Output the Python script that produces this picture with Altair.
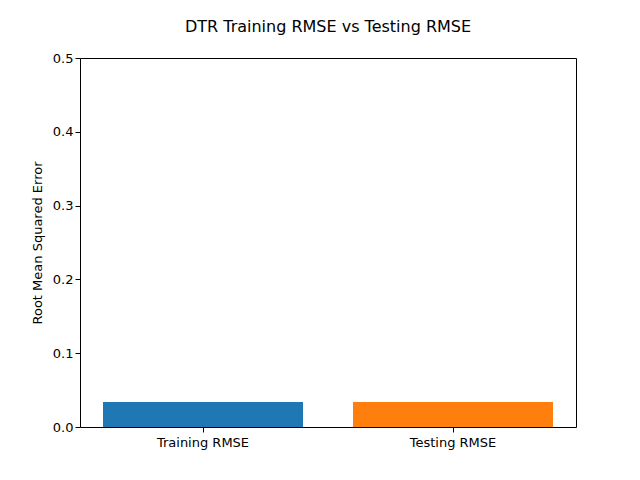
import pandas as pd
import altair as alt

labels = ["Training RMSE", "Testing RMSE"]
rmse = [0.0338, 0.0338]
colors = ["#1f77b4", "#ff7f0e"]

df = pd.DataFrame({"label": labels, "rmse": rmse})

chart = alt.Chart(df).mark_bar().encode(
    x=alt.X("label:N", sort=labels, title=None,
            scale=alt.Scale(paddingInner=0.2, paddingOuter=0.092),
            axis=alt.Axis(labelAngle=0, labelFontSize=13, tickSize=5, labelPadding=4,
                          domain=False, tickColor="black", labelColor="black")),
    y=alt.Y("rmse:Q", title="Root Mean Squared Error",
            scale=alt.Scale(domain=[0, 0.5], nice=False),
            axis=alt.Axis(values=[0, 0.1, 0.2, 0.3, 0.4, 0.5], format=".1f", grid=False,
                          labelFontSize=13, titleFontSize=13, titleFontWeight="normal",
                          tickSize=5, domain=False, tickColor="black", labelColor="black",
                          titleColor="black", titlePadding=8)),
    color=alt.Color("label:N", scale=alt.Scale(domain=labels, range=colors), legend=None),
).properties(
    width=496, height=369,
    title=alt.TitleParams("DTR Training RMSE vs Testing RMSE", fontSize=16,
                          fontWeight="normal", offset=17, color="black"),
    autosize=alt.AutoSizeParams(type="none"),
    padding={"left": 72, "top": 50, "right": 56, "bottom": 45},
).configure(font="DejaVu Sans").configure_view(stroke="black", strokeWidth=1)

chart.save("out.html", embed_options={"renderer": "svg", "actions": False})
